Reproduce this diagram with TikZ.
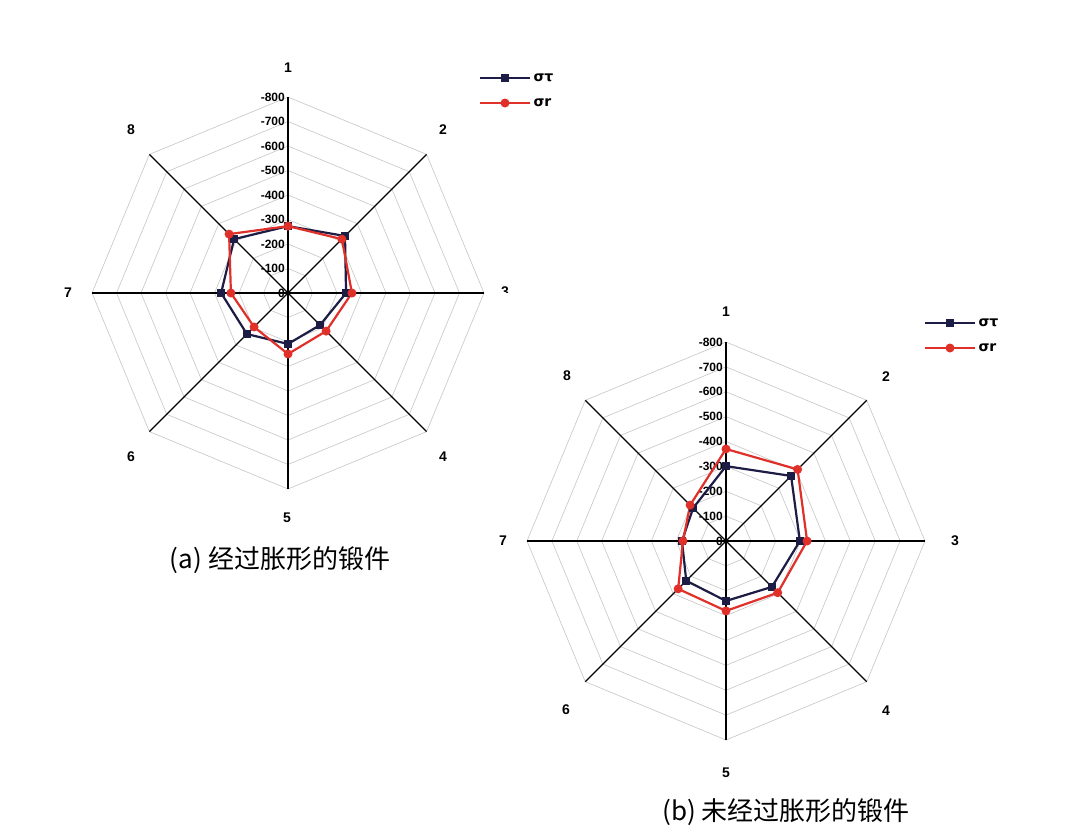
\documentclass[tikz,border=0pt]{standalone}
\usepackage{fontspec}
\setmainfont{Liberation Sans}
\newfontfamily\cjk{Noto Sans CJK SC}
\newfontfamily\dv{DejaVu Sans}
\definecolor{navy}{HTML}{1C1C45}
\definecolor{rd}{HTML}{E0302A}
\tikzset{
  ring/.style={draw=gray!45,line width=0.6pt},
  axisln/.style={draw=black,line width=1.3pt},
  sT/.style={draw=navy,line width=2.2pt,line join=round},
  sR/.style={draw=rd,line width=2.2pt,line join=round},
  sqm/.style={fill=navy,minimum size=8pt,inner sep=0pt,rectangle},
  dtm/.style={fill=rd,minimum size=9pt,inner sep=0pt,circle},
  axlab/.style={font=\bfseries\fontsize{14}{14}\selectfont},
  tick/.style={font=\bfseries\fontsize{12}{12}\selectfont,anchor=east,inner sep=1pt},
  leg/.style={font=\dv\bfseries\fontsize{14}{14}\selectfont,anchor=west},
  captext/.style={font=\cjk\fontsize{26}{26}\selectfont}
}
\newcommand\radargrid[4]{% prefix cx cy R
  \foreach \k in {1,...,8}{
    \draw[ring] ({#2},{#3-#4/8*\k})
      \foreach \a in {45,90,...,315}{ -- ({#2+#4/8*\k*sin(\a)},{#3-#4/8*\k*cos(\a)}) } -- cycle;
  }
  \coordinate (#1c) at (#2,#3);
  \foreach \i in {1,...,8}{
    \coordinate (#1ax\i) at ({#2+#4*sin(45*(\i-1))},{#3-#4*cos(45*(\i-1))});
    \draw[axisln] (#1c) -- (#1ax\i);
  }
  \foreach \t in {100,200,...,800}{
    \node[tick] (#1t\t) at ({#2-2},{#3-#4/800*\t}) {-\t};
  }
  \node[tick] (#1t0) at ({#2-2},{#3}) {0};
}
\newcommand\series[6]{% name cx cy R values style
  \foreach \v [count=\i] in {#5}{
    \coordinate (#1\i) at ({#2+#4/800*\v*sin(45*(\i-1))},{#3-#4/800*\v*cos(45*(\i-1))});
  }
  \draw[#6] (#11)--(#12)--(#13)--(#14)--(#15)--(#16)--(#17)--(#18)--cycle;
}
\begin{document}
\begin{tikzpicture}[x=1pt,y=-1pt]
\useasboundingbox[fill=white] (0,0) rectangle (1080,839);
% chart a
\radargrid{a}{288}{293}{196}
\series{aT}{288}{293}{196}{273,329,237,185,208,237,273,311}{sT}
\series{aR}{288}{293}{196}{273,311,261,220,249,196,233,340}{sR}
\foreach \i in {1,...,8}{\node[sqm] (aTm\i) at (aT\i){};}
\foreach \i in {1,...,8}{\node[dtm] (aRm\i) at (aR\i){};}
\node[axlab] (al1) at (288,68) {1};
\node[axlab] (al2) at (443,130) {2};
\node[axlab] (al3) at (505,292) {3};
\node[axlab] (al4) at (443,457) {4};
\node[axlab] (al5) at (287,518) {5};
\node[axlab] (al6) at (131,457) {6};
\node[axlab] (al7) at (68,293) {7};
\node[axlab] (al8) at (131,130) {8};
\fill[white] (495,293) rectangle (520,305);
\coordinate (aL1a) at (480,78); \coordinate (aL1b) at (530,78);
\coordinate (aL2a) at (480,103); \coordinate (aL2b) at (530,103);
\draw[sT] (aL1a) -- (aL1b); \node[sqm] (aLm1) at (505,78){};
\draw[sR] (aL2a) -- (aL2b); \node[dtm] (aLm2) at (505,103){};
\node[leg] (aLt1) at (530,78) {στ};
\node[leg] (aLt2) at (530,103) {σr};
\node[captext] (capa) at (280,560) {(a) 经过胀形的锻件};
% chart b
\radargrid{b}{726}{541}{199}
\series{bT}{726}{541}{199}{301,370,297,261,241,226,177,187}{sT}
\series{bR}{726}{541}{199}{370,407,326,294,281,272,173,204}{sR}
\foreach \i in {1,...,8}{\node[sqm] (bTm\i) at (bT\i){};}
\foreach \i in {1,...,8}{\node[dtm] (bRm\i) at (bR\i){};}
\node[axlab] (bl1) at (726,312) {1};
\node[axlab] (bl2) at (886,377) {2};
\node[axlab] (bl3) at (955,541) {3};
\node[axlab] (bl4) at (886,711) {4};
\node[axlab] (bl5) at (726,773) {5};
\node[axlab] (bl6) at (566,710) {6};
\node[axlab] (bl7) at (503,541) {7};
\node[axlab] (bl8) at (567,376) {8};
\coordinate (bL1a) at (925,323); \coordinate (bL1b) at (975,323);
\coordinate (bL2a) at (925,348); \coordinate (bL2b) at (975,348);
\draw[sT] (bL1a) -- (bL1b); \node[sqm] (bLm1) at (950,323){};
\draw[sR] (bL2a) -- (bL2b); \node[dtm] (bLm2) at (950,348){};
\node[leg] (bLt1) at (975,323) {στ};
\node[leg] (bLt2) at (975,348) {σr};
\node[captext] (capb) at (786,812) {(b) 未经过胀形的锻件};
\end{tikzpicture}
\end{document}
